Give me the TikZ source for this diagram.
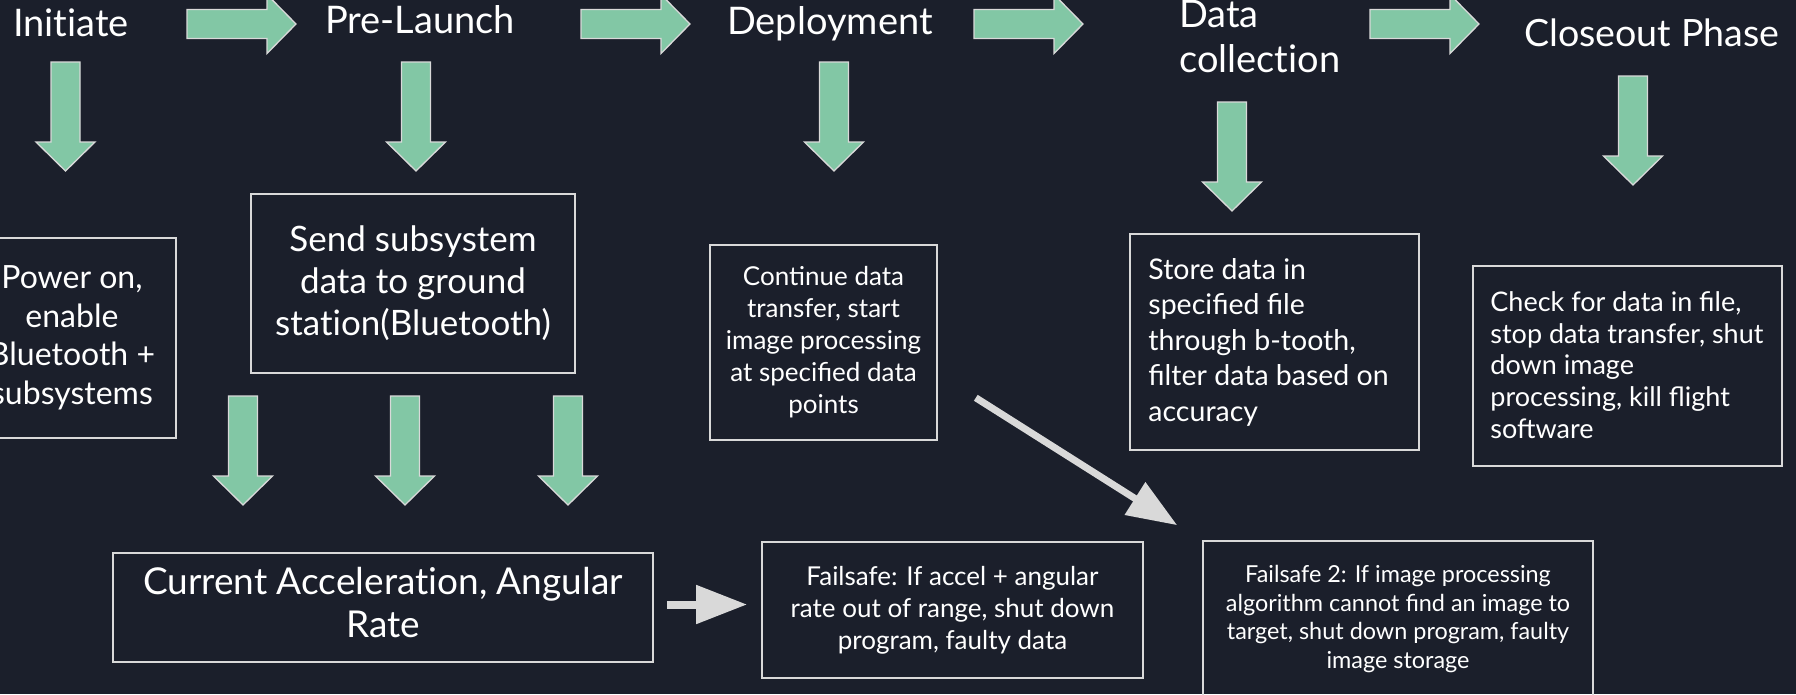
\documentclass[tikz,border=0pt]{standalone}
\usepackage{fontspec}
\setmainfont{Lato}
\usetikzlibrary{arrows.meta}
\definecolor{bg}{HTML}{1B1F2B}
\definecolor{grn}{HTML}{82C7A5}
\definecolor{edgec}{HTML}{D9D9D9}
\newcommand\ti{t\kern0pt i}
\tikzset{
  title/.style={text=white, inner sep=0pt, font=\fontsize{38}{45}\selectfont},
  box/.style={draw=edgec, line width=1.6pt, text=white, inner sep=0pt, align=center},
  boxtext/.style={text=white, inner sep=0pt},
  barrow/.pic={
    \draw[draw=edgec, fill=grn, line width=1.3pt, line join=miter]
      (0,-14.5) -- (80,-14.5) -- (80,-29.5) -- (109,0) -- (80,29.5) -- (80,14.5) -- (0,14.5) -- cycle;
  },
  grayarrow/.style={draw=edgec, line width=8pt, -{Triangle[length=51pt,width=37pt]}},
  diagarrow/.style={draw=edgec, line width=7pt, -{Triangle[length=50pt,width=37pt]}}
}
\begin{document}
\begin{tikzpicture}[x=1pt,y=-1pt]
\useasboundingbox (0,0) rectangle (1796,694);
\fill[bg] (0,0) rectangle (1796,694);

% phase titles
\node[title, anchor=base west] (init) at (13,36) {Ini\ti ate};
\node[title, anchor=base west] (pre) at (325,33) {Pre-Launch};
\node[title, anchor=base west] (dep) at (727,34) {Deployment};
\node[title, anchor=north west, align=left] (dc) at (1179,0) {Data\\collec\ti on};
\node[title, anchor=base west, font=\fontsize{37.6}{45}\selectfont] (close) at (1524,46) {Closeout Phase};

% horizontal block arrows
\pic (h1) at (187,24) {barrow};
\pic (h2) at (581,24) {barrow};
\pic (h3) at (974,24) {barrow};
\pic (h4) at (1370,24) {barrow};

% vertical block arrows
\pic[rotate=-90] (v1) at (65.5,62) {barrow};
\pic[rotate=-90] (v2) at (416,62) {barrow};
\pic[rotate=-90] (v3) at (834,62) {barrow};
\pic[rotate=-90] (v4) at (1232,102) {barrow};
\pic[rotate=-90] (v5) at (1633,76) {barrow};
\pic[rotate=-90] (v6) at (243,396) {barrow};
\pic[rotate=-90] (v7) at (405,396) {barrow};
\pic[rotate=-90] (v8) at (568,396) {barrow};

% boxes
\node[box, minimum width=208pt, minimum height=200pt,
      font=\fontsize{32}{38.5}\selectfont] (power) at (72,338)
  {Power on,\\enable\\Bluetooth +\\subsystems};
\node[box, minimum width=324pt, minimum height=179pt,
      font=\fontsize{35}{42}\selectfont] (send) at (413,283.5)
  {Send subsystem\\data to ground\\sta\ti on(Bluetooth)};
\node[box, minimum width=227pt, minimum height=195pt,
      font=\fontsize{26}{32}\selectfont] (deploy) at (823.5,342.5)
  {Continue data\\transfer, start\\image processing\\at specified data\\points};
\node[box, minimum width=289pt, minimum height=216pt] (store) at (1274.5,342) {};
\node[boxtext, anchor=west, align=left, font=\fontsize{28.5}{35.5}\selectfont] (storet)
  at ([xshift=19pt]store.west)
  {Store data in\\specified file\\through b-tooth,\\filter data based on\\accuracy};
\node[box, minimum width=309pt, minimum height=200pt] (check) at (1627.5,366) {};
\node[boxtext, anchor=west, align=left, font=\fontsize{27}{31.8}\selectfont] (checkt)
  at ([shift={(18,-1)}]check.west)
  {Check for data in file,\\stop data transfer, shut\\down image\\processing, kill flight\\software};
\node[box, minimum width=540pt, minimum height=109pt] (accel) at (383,607.5) {};
\node[boxtext, align=center, font=\fontsize{37}{43.5}\selectfont] (accelt)
  at ([yshift=5pt]accel.center)
  {Current Accelera\ti on, Angular\\Rate};
\node[box, minimum width=381pt, minimum height=136pt,
      font=\fontsize{26}{32}\selectfont] (fs1) at (952.5,610)
  {Failsafe: If accel + angular\\rate out of range, shut down\\program, faulty data};
\node[box, minimum width=390pt, minimum height=156pt,
      font=\fontsize{23.4}{28.5}\selectfont] (fs2) at (1398,619)
  {Failsafe 2: If image processing\\algorithm cannot find an image to\\target, shut down program, faulty\\image storage};

% gray connectors
\draw[grayarrow] ([shift={(13,-3)}]accel.east) -- ([shift={(-14,-5.5)}]fs1.west);
\coordinate (dstart) at ([shift={(38,-43)}]deploy.south east);
\draw[diagarrow] (dstart) -- ([shift={(-25,-15)}]fs2.north west);
\end{tikzpicture}
\end{document}
